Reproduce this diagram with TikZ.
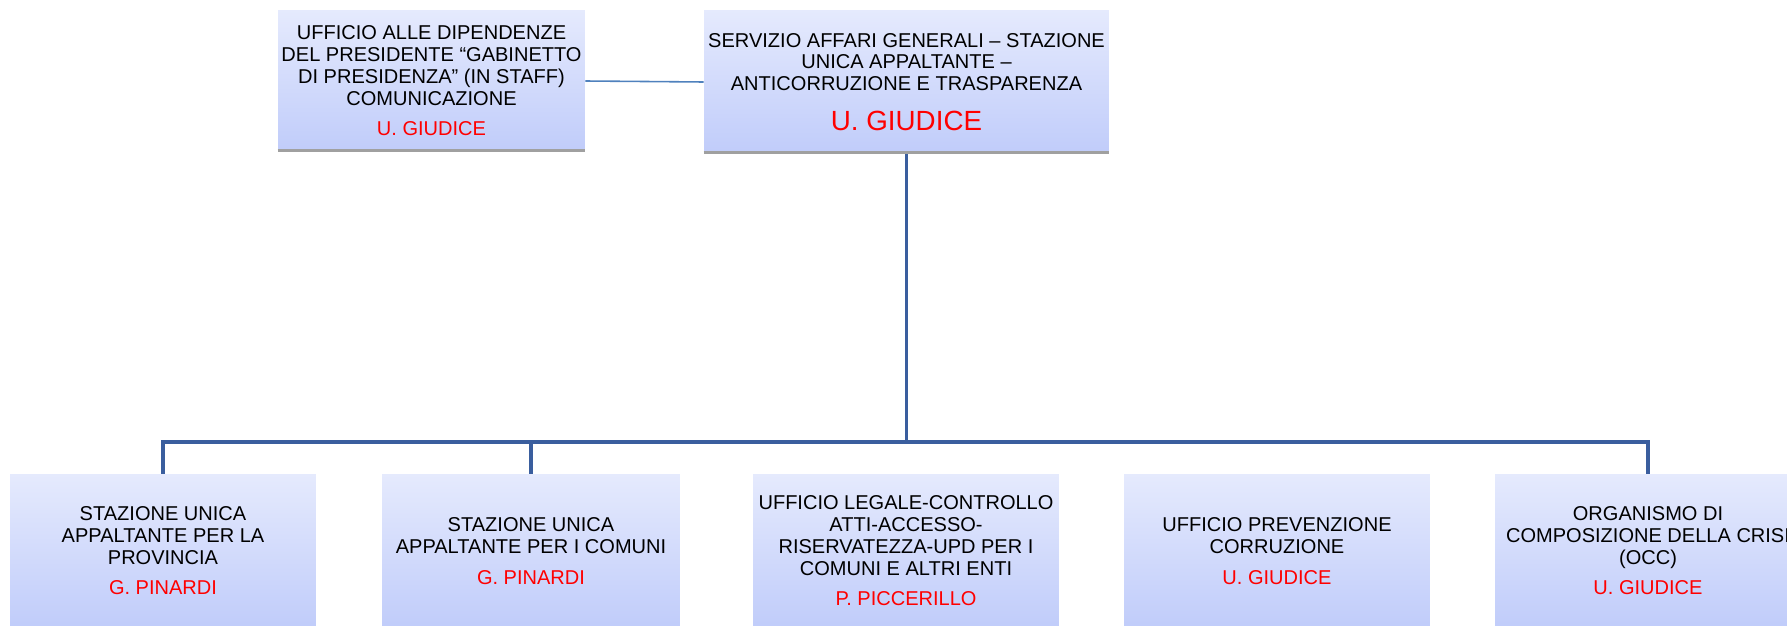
\documentclass[tikz,border=0pt]{standalone}
\usepackage{fontspec}
\setmainfont{Liberation Sans}
\definecolor{boxtop}{HTML}{E5EAFD}
\definecolor{boxbottom}{HTML}{C0CCFA}
\definecolor{treeblue}{HTML}{3A5E9E}
\definecolor{staffblue}{HTML}{4F81BD}
\definecolor{namered}{HTML}{FF0000}
\definecolor{rimgray}{HTML}{A0A0A0}
\newcommand{\chief}[1]{\\[5pt]\textcolor{namered}{#1}}
\begin{document}
\begin{tikzpicture}[x=0.02cm,y=-0.02cm,
    unit/.style={top color=boxtop,bottom color=boxbottom,inner sep=0pt,
      minimum width=6.12cm,minimum height=3.08cm,
      align=center,font=\fontsize{11.4}{12.4}\selectfont},
    rim/.style={draw=rimgray,line width=2pt},
    tree/.style={draw=treeblue,line width=2pt,line join=miter},
    staff/.style={draw=staffblue,line width=0.9pt}]
  \useasboundingbox (0,0) rectangle (1787,625);
  \clip (0,0) rectangle (1787,625);
  \path
    (431.5,81) node[unit,minimum width=6.14cm,minimum height=2.84cm] (pres)
      {UFFICIO ALLE DIPENDENZE\\DEL PRESIDENTE “GABINETTO\\DI PRESIDENZA” (IN STAFF)\\COMUNICAZIONE\chief{U. GIUDICE}}
    (906.5,82) node[unit,minimum width=8.1cm,minimum height=2.88cm] (serv)
      {SERVIZIO AFFARI GENERALI – STAZIONE\\UNICA APPALTANTE –\\ANTICORRUZIONE E TRASPARENZA\\[10.4pt]%
       {\fontsize{15.8}{18}\selectfont\color{namered}U. GIUDICE}}
    (163,551) node[unit] (prov)
      {STAZIONE UNICA\\APPALTANTE PER LA\\PROVINCIA\chief{G. PINARDI}}
    (531,551) node[unit,minimum width=5.96cm] (comuni)
      {STAZIONE UNICA\\APPALTANTE PER I COMUNI\chief{G. PINARDI}}
    (906,551) node[unit] (legale)
      {UFFICIO LEGALE-CONTROLLO\\ATTI-ACCESSO-\\RISERVATEZZA-UPD PER I\\COMUNI E ALTRI ENTI\chief{P. PICCERILLO}}
    (1277,551) node[unit] (prev)
      {UFFICIO PREVENZIONE\\CORRUZIONE\chief{U. GIUDICE}}
    (1648,551) node[unit] (occ)
      {ORGANISMO DI\\COMPOSIZIONE DELLA CRISI\\(OCC)\chief{U. GIUDICE}};
  \draw[rim] ([yshift=1pt]pres.south west) -- ([yshift=1pt]pres.south east);
  \draw[rim] ([yshift=1pt]serv.south west) -- ([yshift=1pt]serv.south east);
  \draw[staff] (pres.east) -- (serv.west);
  \coordinate (bus) at (906.5,442);
  \begin{scope}[tree]
    \draw (serv.south) -- (bus);
    \draw (bus) -| (prov.north);
    \draw (bus) -| (comuni.north);
    \draw (bus) -| (occ.north);
  \end{scope}
\end{tikzpicture}
\end{document}
